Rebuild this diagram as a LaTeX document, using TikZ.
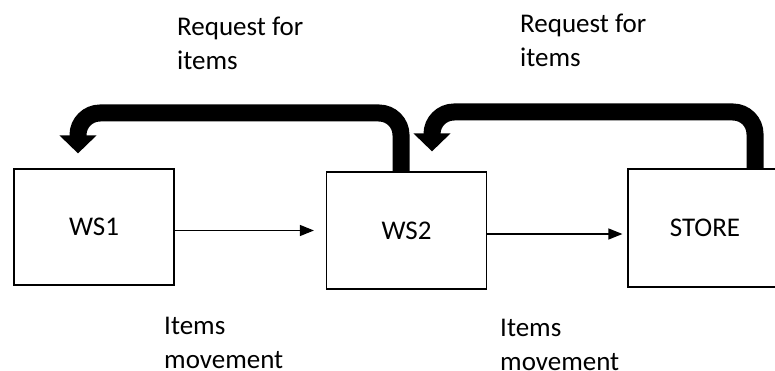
\documentclass[tikz,border=0pt]{standalone}
\usepackage{fontspec}
\setmainfont{Carlito}
\usepackage{tikz}
\usetikzlibrary{arrows.meta}

\begin{document}
\begin{tikzpicture}[x=1pt, y=-1pt,
    station/.style={draw, line width=1.2pt, minimum width=160pt, minimum height=116pt, inner sep=0pt, font=\fontsize{27}{33}\selectfont},
    label/.style={anchor=base west, inner sep=0pt, align=left, font=\fontsize{27}{34}\selectfont},
    flow/.style={line width=1.2pt, -{Triangle[length=14pt, width=11pt]}},
    request/.style={line width=17pt, rounded corners=22pt, -{Triangle[length=18pt, width=36pt]}}]
    \useasboundingbox (0,0) rectangle (775,371);

    % Draw the stations
    \node[station] (ws1) at (94,227) {WS1};
    \node[station, minimum height=117pt] (ws2) at (406.5,230.5) {WS2};
    \node[station, minimum width=154pt, minimum height=118pt] (store) at (705,228) {STORE};

    % Items movement
    \draw[flow] (ws1.east |- ws2.west) -- ([xshift=-12pt]ws2.west);
    \draw[flow] ([yshift=-3.5pt]ws2.east) -- ([xshift=-5pt, yshift=-6pt]store.west);

    % Requests back upstream
    \draw[request] ([xshift=-5.5pt]ws2.north) |- (78,113) -- ([xshift=-16pt, yshift=15pt]ws1.north);
    \draw[request] ([xshift=50pt]store.north) |- (432,112) -- ([xshift=25.5pt, yshift=20pt]ws2.north);

    % Add labels (base = last line)
    \node[label] (req1) at (177,70) {Request for\\items};
    \node[label] (req2) at (520,67) {Request for\\items};
    \node[label] (mov1) at (164,368) {Items\\movement};
    \node[label] (mov2) at (500,370) {Items\\movement};
\end{tikzpicture}
\end{document}
